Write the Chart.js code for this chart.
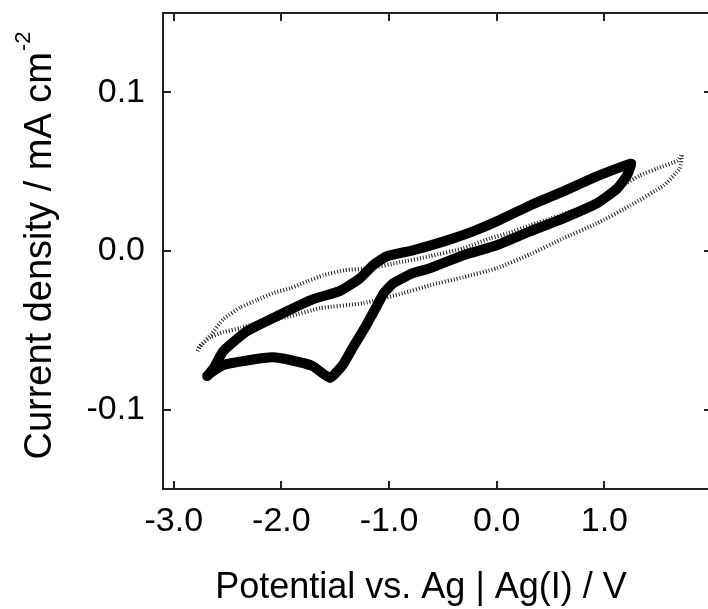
<!DOCTYPE html>
<html>
<head>
<meta charset="utf-8">
<script src="https://cdn.jsdelivr.net/npm/chart.js@4.4.0/dist/chart.umd.min.js"></script>
<style>
  html, body { margin: 0; padding: 0; background: #fff; overflow: hidden; }
  #wrap { width: 708px; height: 609px; overflow: hidden; }
</style>
</head>
<body>
<div id="wrap"><canvas id="cv" width="730" height="609"></canvas></div>
<script>
// thick loop (potential V, current density mA cm-2)
const thickV = [-2.69, -2.63, -2.54, -2.32, -2.01, -1.71, -1.46, -1.27, -1.15, -1.02, -0.78, -0.46, -0.22, 0.00, 0.31, 0.62, 0.93, 1.17, 1.25,
                1.21, 1.12, 0.93, 0.62, 0.31, 0.00, -0.31, -0.62, -0.78, -0.96, -1.05, -1.11, -1.21, -1.34, -1.43, -1.55,
                -1.71, -1.92, -2.08, -2.32, -2.54, -2.66, -2.69];
const thickI = [-0.0788, -0.0739, -0.0631, -0.0505, -0.0400, -0.0305, -0.0253, -0.0172, -0.0090, -0.0033, 0.0004, 0.0067, 0.0124, 0.0187, 0.0287, 0.0376, 0.0470, 0.0533, 0.0550,
                0.0476, 0.0394, 0.0300, 0.0206, 0.0124, 0.0036, -0.0027, -0.0109, -0.0140, -0.0203, -0.0266, -0.0342, -0.0467, -0.0612, -0.0719, -0.0800,
                -0.0725, -0.0687, -0.0670, -0.0690, -0.0719, -0.0769, -0.0788];

// dotted loop
const thinV = [-2.78, -2.74, -2.65, -2.54, -2.38, -2.23, -2.08, -1.92, -1.76, -1.61, -1.41, -1.18, -0.90, -0.62, -0.31, -0.06, 0.10, 0.31, 0.56, 0.87, 1.17, 1.33, 1.49, 1.68, 1.72,
               1.70, 1.55, 1.24, 0.93, 0.62, 0.31, 0.00, -0.31, -0.62, -0.87, -1.24, -1.64, -1.92, -2.23, -2.38, -2.54, -2.66, -2.76, -2.78];
const thinI = [-0.0630, -0.0590, -0.0525, -0.0430, -0.0355, -0.0310, -0.0266, -0.0235, -0.0191, -0.0153, -0.0121, -0.0109, -0.0071, -0.0033, 0.0017, 0.0080, 0.0111, 0.0162, 0.0218, 0.0300, 0.0413, 0.0476, 0.0520, 0.0570, 0.0608,
               0.0520, 0.0413, 0.0287, 0.0174, 0.0080, -0.0021, -0.0109, -0.0165, -0.0216, -0.0266, -0.0329, -0.0360, -0.0411, -0.0455, -0.0486, -0.0511, -0.0543, -0.0600, -0.0630];

const xTicks = [-3, -2, -1, 0, 1];
const yTicks = [-0.1, 0, 0.1];

const FONT = "Arial, 'Liberation Sans', sans-serif";

function toPts(xs, ys) {
  return xs.map((x, i) => ({ x: x, y: ys[i] }));
}

// box, inward ticks on all sides, axis titles
const frame = {
  id: 'frame',
  afterDraw(chart) {
    const ctx = chart.ctx;
    const a = chart.chartArea;
    const sx = chart.scales.x, sy = chart.scales.y;
    ctx.save();
    ctx.strokeStyle = '#222';
    ctx.lineWidth = 2;
    ctx.strokeRect(a.left, a.top, a.right - a.left, a.bottom - a.top);
    ctx.beginPath();
    xTicks.forEach(v => {
      const px = Math.round(sx.getPixelForValue(v));
      ctx.moveTo(px, a.bottom); ctx.lineTo(px, a.bottom - 8);
      ctx.moveTo(px, a.top); ctx.lineTo(px, a.top + 8);
    });
    yTicks.forEach(v => {
      const py = Math.round(sy.getPixelForValue(v));
      ctx.moveTo(a.left, py); ctx.lineTo(a.left + 8, py);
      ctx.moveTo(a.right, py); ctx.lineTo(a.right - 8, py);
    });
    ctx.stroke();

    ctx.fillStyle = '#000';
    // x title
    ctx.font = '36px ' + FONT;
    ctx.textAlign = 'center';
    ctx.textBaseline = 'alphabetic';
    ctx.fillText('Potential vs. Ag | Ag(I) / V', 421, 598);

    // y title with superscript
    const main = 'Current density / mA cm';
    const sup = '-2';
    ctx.font = '38px ' + FONT;
    const w1 = ctx.measureText(main).width;
    ctx.font = '22px ' + FONT;
    const w2 = ctx.measureText(sup).width;
    const total = w1 + w2;
    ctx.translate(51, 246);
    ctx.rotate(-Math.PI / 2);
    ctx.textAlign = 'left';
    ctx.font = '38px ' + FONT;
    ctx.fillText(main, -total / 2, 0);
    ctx.font = '22px ' + FONT;
    ctx.fillText(sup, -total / 2 + w1 + 1, -21);
    ctx.restore();
  }
};

const ctx = document.getElementById('cv').getContext('2d');
const myChart = new Chart(ctx, {
  type: 'scatter',
  data: {
    datasets: [
      {
        label: 'thick',
        data: toPts(thickV, thickI),
        showLine: true,
        borderColor: '#000',
        borderWidth: 10,
        borderJoinStyle: 'round',
        borderCapStyle: 'round',
        pointRadius: 0,
        tension: 0.15
      },
      {
        label: 'thin',
        data: toPts(thinV, thinI),
        showLine: true,
        borderColor: '#222',
        borderWidth: 4,
        borderDash: [1, 2],
        pointRadius: 0,
        tension: 0.15
      }
    ]
  },
  options: {
    responsive: false,
    animation: false,
    devicePixelRatio: 1,
    layout: { padding: { top: 13, right: 18, left: 0, bottom: 0 } },
    plugins: { legend: { display: false }, tooltip: { enabled: false } },
    scales: {
      x: {
        type: 'linear',
        min: -3.1,
        max: 2.0,
        grid: { display: false, drawTicks: false },
        border: { display: false },
        afterBuildTicks: s => { s.ticks = xTicks.map(v => ({ value: v })); },
        afterFit: s => { s.height = 120; s.paddingLeft = 0; s.paddingRight = 0; },
        ticks: {
          callback: v => v.toFixed(1),
          font: { family: FONT, size: 34 },
          color: '#000',
          padding: 12,
          maxRotation: 0,
          autoSkip: false
        }
      },
      y: {
        type: 'linear',
        min: -0.15,
        max: 0.15,
        grid: { display: false, drawTicks: false },
        border: { display: false },
        afterBuildTicks: s => { s.ticks = yTicks.map(v => ({ value: v })); },
        afterFit: s => { s.width = 163; s.paddingTop = 0; s.paddingBottom = 0; },
        ticks: {
          callback: v => v.toFixed(1),
          font: { family: FONT, size: 34 },
          color: '#000',
          padding: 18,
          autoSkip: false
        }
      }
    }
  },
  plugins: [frame]
});
</script>
</body>
</html>
